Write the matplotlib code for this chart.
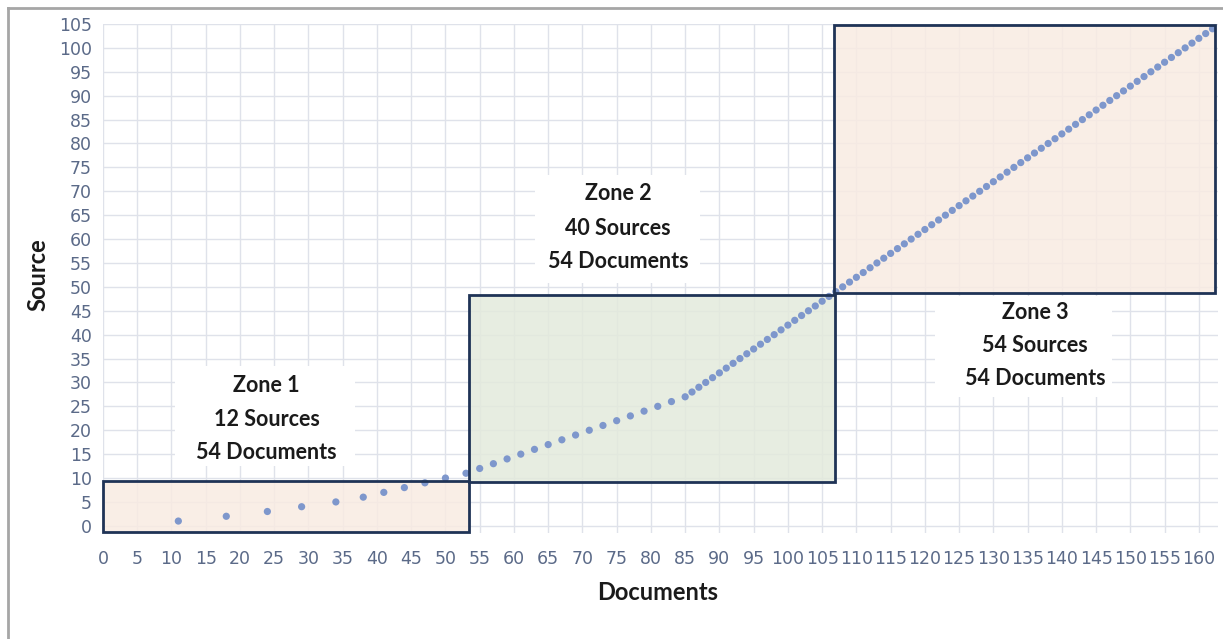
import matplotlib
matplotlib.use("Agg")
import matplotlib.pyplot as plt
from matplotlib.patches import Rectangle
from matplotlib.lines import Line2D

# ---- data ----
sources = [1, 2, 3, 4, 5, 6, 7, 8, 9, 10, 11, 12, 13, 14, 15, 16, 17, 18, 19, 20,
           21, 22, 23, 24, 25, 26, 27, 28, 29, 30, 31, 32, 33, 34, 35, 36, 37, 38, 39, 40,
           41, 42, 43, 44, 45, 46, 47, 48, 49, 50, 51, 52, 53, 54, 55, 56, 57, 58, 59, 60,
           61, 62, 63, 64, 65, 66, 67, 68, 69, 70, 71, 72, 73, 74, 75, 76, 77, 78, 79, 80,
           81, 82, 83, 84, 85, 86, 87, 88, 89, 90, 91, 92, 93, 94, 95, 96, 97, 98, 99, 100,
           101, 102, 103, 104]
documents = [11, 18, 24, 29, 34, 38, 41, 44, 47, 50, 53, 55, 57, 59, 61, 63, 65, 67, 69, 71,
             73, 75, 77, 79, 81, 83, 85, 86, 87, 88, 89, 90, 91, 92, 93, 94, 95, 96, 97, 98,
             99, 100, 101, 102, 103, 104, 105, 106, 107, 108, 109, 110, 111, 112, 113, 114, 115, 116, 117, 118,
             119, 120, 121, 122, 123, 124, 125, 126, 127, 128, 129, 130, 131, 132, 133, 134, 135, 136, 137, 138,
             139, 140, 141, 142, 143, 144, 145, 146, 147, 148, 149, 150, 151, 152, 153, 154, 155, 156, 157, 158,
             159, 160, 161, 162]

x_ticks = [0, 5, 10, 15, 20, 25, 30, 35, 40, 45, 50, 55, 60, 65, 70, 75, 80, 85, 90, 95,
           100, 105, 110, 115, 120, 125, 130, 135, 140, 145, 150, 155, 160]
y_ticks = [0, 5, 10, 15, 20, 25, 30, 35, 40, 45, 50, 55, 60, 65, 70, 75, 80, 85, 90, 95, 100, 105]

zone_names = ["Zone 1", "Zone 2", "Zone 3"]
zone_sources = ["12 Sources", "40 Sources", "54 Sources"]
zone_docs = ["54 Documents", "54 Documents", "54 Documents"]
zone_x0 = [0, 53.5, 106.8]
zone_x1 = [53.4, 106.9, 162.3]
zone_y0 = [-1.2, 9.1, 48.7]
zone_y1 = [9.3, 48.3, 104.8]

# ---- styles / layout ----
zone_fill = ["#F8EBE2", "#E3EADC", "#F8EBE2"]
edge_col = "#1F3356"
dot_col = "#7E97CC"
grid_col = "#DFE2EA"
tick_col = "#5B6A88"

label_cx = [23.9, 75.2, 136.1]
label_lines_y = [[29.3, 22.2, 15.3], [69.5, 62.3, 55.4], [44.6, 37.7, 30.8]]
white_boxes = [(10.5, 12.6, 36.8, 33.5), (63.1, 50.8, 87.2, 73.4), (121.5, 27.0, 147.3, 48.0)]

fig = plt.figure(figsize=(12.23, 6.39), dpi=100)
ax = fig.add_axes([103 / 1223, 1 - 533 / 639, (1218 - 103) / 1223, (533 - 24) / 639])
ax.set_xlim(0, 162.8)
ax.set_ylim(-1.5, 105)

for s in ax.spines.values():
    s.set_visible(False)

ax.set_xticks(x_ticks)
ax.set_yticks(y_ticks)
ax.set_xticklabels([str(v) for v in x_ticks])
ax.set_yticklabels([str(v) for v in y_ticks])
ax.tick_params(length=0, colors=tick_col, labelsize=12.5)
ax.tick_params(axis="x", pad=12)
ax.tick_params(axis="y", pad=8)
for lab in ax.get_xticklabels() + ax.get_yticklabels():
    lab.set_family(["Liberation Sans Narrow", "DejaVu Sans"])
ax.grid(True, color=grid_col, lw=1.0, zorder=0)
ax.set_axisbelow(True)

# white label backgrounds
for (x0, y0, x1, y1) in white_boxes:
    ax.add_patch(Rectangle((x0, y0), x1 - x0, y1 - y0, facecolor="white", edgecolor="none", zorder=1))

# zones
for i in range(3):
    ax.add_patch(Rectangle((zone_x0[i], zone_y0[i]), zone_x1[i] - zone_x0[i], zone_y1[i] - zone_y0[i],
                           facecolor=zone_fill[i], edgecolor="none", alpha=0.85, zorder=1.5))
for i in range(3):
    ax.add_patch(Rectangle((zone_x0[i], zone_y0[i]), zone_x1[i] - zone_x0[i], zone_y1[i] - zone_y0[i],
                           facecolor="none", edgecolor=edge_col, lw=2.0, zorder=4, clip_on=False))

ax.scatter(documents, sources, s=27, color=dot_col, edgecolors="none", zorder=3, clip_on=False)

for i in range(3):
    for txt, yy in zip([zone_names[i], zone_sources[i], zone_docs[i]], label_lines_y[i]):
        ax.text(label_cx[i], yy, txt, ha="center", va="center", fontsize=15.5,
                fontweight="bold", family="Lato", color="#1A1A1A", zorder=5)

fig.text(658 / 1223, 1 - 593 / 639, "Documents", ha="center", va="center",
         fontsize=17, fontweight="bold", family="Lato", color="#1A1A1A")
fig.text(38 / 1223, 1 - 275 / 639, "Source", ha="center", va="center", rotation=90,
         fontsize=17, fontweight="bold", family="Lato", color="#1A1A1A")

# outer frame (top and left visible)
fig.add_artist(Line2D([8 / 1223, 1.0], [1 - 8 / 639, 1 - 8 / 639], color="#A6A6A6", lw=2))
fig.add_artist(Line2D([8 / 1223, 8 / 1223], [0, 1 - 8 / 639], color="#A6A6A6", lw=2))

fig.savefig("out.png", dpi=100)
